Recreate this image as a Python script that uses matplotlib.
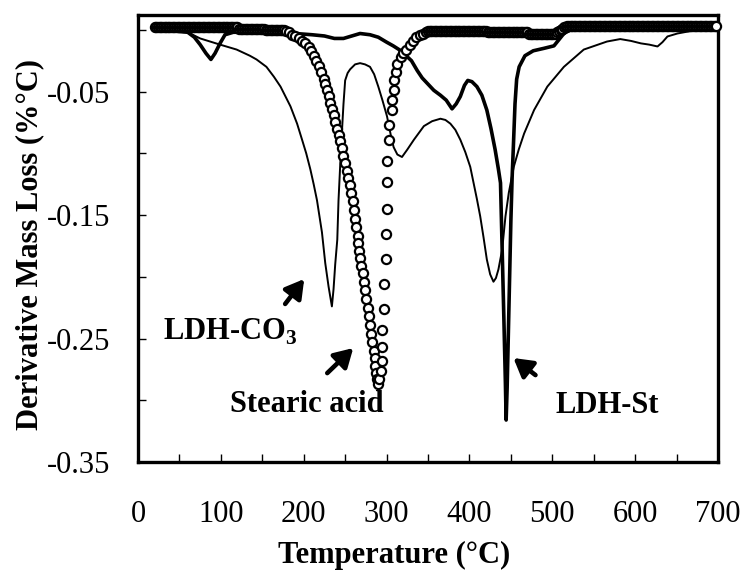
import matplotlib
matplotlib.use('Agg')
import matplotlib.pyplot as plt
from matplotlib.ticker import FixedLocator, FormatStrFormatter

# LDH-St (thick solid line)
st_T = [22, 45, 60, 68, 75, 82, 88, 93, 99, 105,
        115, 130, 150, 170, 190, 210, 225, 237, 248, 258,
        268, 280, 290, 300, 308, 315, 322, 330, 337, 343,
        350, 357, 365, 372, 379, 384, 389, 394, 398, 403,
        409, 415, 421, 426, 431, 435, 437.5, 439.5, 441.5, 443.4,
        444.3, 445.5, 447, 448.5, 450, 451.5, 453, 455, 457, 460,
        467, 477, 490, 502, 508, 514, 522, 560, 620, 700]
st_v = [0.0, -0.001, -0.002, -0.006, -0.012, -0.019, -0.024, -0.019, -0.011, -0.004,
        -0.002, -0.002, -0.002, -0.003, -0.003, -0.004, -0.005, -0.007, -0.007, -0.005,
        -0.003, -0.004, -0.006, -0.010, -0.013, -0.016, -0.020, -0.025, -0.033, -0.039,
        -0.044, -0.049, -0.053, -0.057, -0.064, -0.060, -0.054, -0.045, -0.041, -0.042,
        -0.046, -0.053, -0.065, -0.080, -0.097, -0.113, -0.124, -0.178, -0.232, -0.286,
        -0.316, -0.290, -0.245, -0.200, -0.155, -0.120, -0.095, -0.060, -0.040, -0.030,
        -0.021, -0.017, -0.015, -0.013, -0.008, -0.003, 0.000, 0.001, 0.001, 0.001]

# LDH-CO3 (thin line)
co3_T = [25, 45, 60, 75, 99, 119, 135, 143, 155, 164,
         172, 178, 184, 192, 198, 203, 208, 212, 216, 219,
         222, 226, 230, 234, 236, 238, 240.5, 242, 244, 246,
         248, 250, 253, 256, 262, 268, 274, 280, 285, 290,
         295, 300.5, 305, 308.5, 313, 318.6, 325, 333, 345, 355,
         365, 371, 377, 383, 389, 395, 401, 405, 409, 413,
         417, 421, 425, 429, 432, 435, 439.5, 443.5, 447.5, 453.5,
         459.5, 466, 478, 494, 514, 538, 566, 582, 595, 607,
         617, 627, 633, 639, 651, 667, 690]
co3_v = [0.0, -0.001, -0.002, -0.007, -0.012, -0.016, -0.021, -0.024, -0.030, -0.038,
         -0.046, -0.054, -0.062, -0.076, -0.089, -0.100, -0.113, -0.125, -0.138, -0.151,
         -0.164, -0.189, -0.208, -0.224, -0.210, -0.190, -0.170, -0.138, -0.110, -0.084,
         -0.060, -0.041, -0.035, -0.032, -0.028, -0.027, -0.028, -0.030, -0.036, -0.046,
         -0.057, -0.070, -0.085, -0.095, -0.101, -0.103, -0.097, -0.089, -0.078, -0.074,
         -0.072, -0.073, -0.076, -0.081, -0.089, -0.099, -0.111, -0.124, -0.137, -0.151,
         -0.168, -0.186, -0.198, -0.204, -0.201, -0.194, -0.178, -0.151, -0.132, -0.111,
         -0.097, -0.084, -0.065, -0.046, -0.030, -0.016, -0.0095, -0.0075, -0.009, -0.011,
         -0.012, -0.0135, -0.010, -0.0054, -0.003, -0.001, 0.000]

# Stearic acid (open circles), in four pieces: start, drop, recovery, end
acid_start_T = [20, 22, 24, 26, 28, 30, 32, 34, 36, 38, 40, 42, 44, 46, 48, 50, 52,
                54, 56, 58, 60, 62, 64, 66, 68, 70, 72, 74, 76, 78, 80, 82, 84, 86,
                88, 90, 92, 94, 96, 98, 100, 102, 104, 106, 108, 110, 112, 114, 116, 118, 120,
                122, 124, 126, 128, 130, 132, 134, 136, 138, 140, 142, 144, 146, 148, 150, 152,
                154, 156, 158, 160, 162, 164, 166, 168, 170, 172, 174, 176]
acid_start_v = [0.002, 0.002, 0.002, 0.002, 0.002, 0.002, 0.002, 0.002, 0.002, 0.002, 0.002, 0.002, 0.002, 0.002, 0.002, 0.002, 0.002,
                0.002, 0.002, 0.002, 0.002, 0.002, 0.002, 0.002, 0.002, 0.002, 0.002, 0.002, 0.002, 0.002, 0.002, 0.002, 0.002, 0.002,
                0.002, 0.002, 0.002, 0.002, 0.002, 0.002, 0.002, 0.002, 0.002, 0.002, 0.002, 0.002, 0.002, 0.002, 0.002, 0.002, 0.002,
                0.001, 0.001, 0.001, 0.001, 0.001, 0.001, 0.001, 0.001, 0.001, 0.001, 0.001, 0.001, 0.001, 0.001, 0.001, 0.001,
                0.0, 0.0, 0.0, 0.0, 0.0, 0.0, 0.0, 0.0, 0.0, 0.0, 0.0, 0.0]

acid_drop_T = [179, 182, 186, 190, 194, 198, 202, 206, 209, 212,
               215, 218, 221, 224, 226, 228, 230, 232, 234, 236,
               238, 240, 242, 244, 246, 248, 250, 252, 254, 256,
               257.5, 259, 260.5, 262, 263.5, 265, 266, 267, 268, 269.5,
               271, 272.5, 274, 275.5, 277, 278.5, 280, 281.5, 283, 284.5,
               285.5, 286.5, 287.5, 288.5, 289.5]
acid_drop_v = [-0.001, -0.002, -0.004, -0.005, -0.007, -0.009, -0.011, -0.014, -0.017, -0.021,
               -0.025, -0.029, -0.034, -0.040, -0.044, -0.049, -0.054, -0.059, -0.064, -0.069,
               -0.075, -0.080, -0.085, -0.090, -0.096, -0.102, -0.108, -0.114, -0.120, -0.126,
               -0.132, -0.139, -0.146, -0.153, -0.160, -0.167, -0.173, -0.179, -0.185, -0.191,
               -0.197, -0.204, -0.211, -0.218, -0.225, -0.232, -0.239, -0.246, -0.253, -0.260,
               -0.266, -0.272, -0.278, -0.283, -0.287]

acid_rise_T = [290.7, 292.8, 294.8, 294.8, 294.8, 296.8, 296.8, 298.8, 298.8, 300.8,
               300.8, 300.8, 302.8, 302.8, 306.9, 306.9, 308.8, 308.8, 310.8, 312.9,
               316.9, 320, 324, 328, 332, 336, 340, 344, 348]
acid_rise_v = [-0.283, -0.276, -0.268, -0.257, -0.243, -0.226, -0.206, -0.186, -0.165, -0.145,
               -0.123, -0.106, -0.089, -0.077, -0.065, -0.057, -0.049, -0.041, -0.034, -0.028,
               -0.022, -0.019, -0.016, -0.012, -0.009, -0.006, -0.004, -0.003, -0.002]

acid_end_T = [350, 352, 354, 356, 358, 360, 362, 364, 366, 368, 370, 372, 374, 376, 378, 380, 382, 384,
              386, 388, 390, 392, 394, 396, 398, 400, 402, 404, 406, 408, 410, 412, 414, 416, 418, 420,
              422, 424, 426, 428, 430, 432, 434, 436, 438, 440, 442, 444, 446,
              448, 450, 452, 454, 456, 458, 460, 462, 464, 466, 468, 470,
              472, 474, 476, 478, 480, 482, 484, 486, 488, 490, 492, 494, 496, 498, 500, 502, 504,
              506, 508, 510, 512, 514, 516,
              518, 520, 522, 524, 526, 528, 530, 532, 534, 536, 538, 540, 542,
              544, 546, 548, 550, 552, 554, 556, 558, 560, 562, 564, 566, 568,
              570, 572, 574, 576, 578, 580, 582, 584, 586, 588, 590, 592, 594,
              596, 598, 600, 602, 604, 606, 608, 610, 612, 614, 616, 618, 620,
              622, 624, 626, 628, 630, 632, 634, 636, 638, 640, 642, 644, 646,
              648, 650, 652, 654, 656, 658, 660, 662, 664, 666, 668, 670, 672,
              674, 676, 678, 680, 682, 684, 686, 688, 690, 692, 694, 696, 698]
acid_end_v = [-0.001, -0.001, -0.001, -0.001, -0.001, -0.001, -0.001, -0.001, -0.001, -0.001, -0.001, -0.001, -0.001, -0.001, -0.001, -0.001, -0.001, -0.001,
              -0.001, -0.001, -0.001, -0.001, -0.001, -0.001, -0.001, -0.001, -0.001, -0.001, -0.001, -0.001, -0.001, -0.001, -0.001, -0.001, -0.001, -0.001,
              -0.002, -0.002, -0.002, -0.002, -0.002, -0.002, -0.002, -0.002, -0.002, -0.002, -0.002, -0.002, -0.002,
              -0.002, -0.002, -0.002, -0.002, -0.002, -0.002, -0.002, -0.002, -0.002, -0.002, -0.002, -0.002,
              -0.003, -0.003, -0.003, -0.003, -0.003, -0.003, -0.003, -0.003, -0.003, -0.003, -0.003, -0.003, -0.003, -0.003, -0.003, -0.003, -0.003,
              -0.002, -0.001, 0.0, 0.001, 0.002, 0.002,
              0.003, 0.003, 0.003, 0.003, 0.003, 0.003, 0.003, 0.003, 0.003, 0.003, 0.003, 0.003, 0.003,
              0.003, 0.003, 0.003, 0.003, 0.003, 0.003, 0.003, 0.003, 0.003, 0.003, 0.003, 0.003, 0.003,
              0.003, 0.003, 0.003, 0.003, 0.003, 0.003, 0.003, 0.003, 0.003, 0.003, 0.003, 0.003, 0.003,
              0.003, 0.003, 0.003, 0.003, 0.003, 0.003, 0.003, 0.003, 0.003, 0.003, 0.003, 0.003, 0.003,
              0.003, 0.003, 0.003, 0.003, 0.003, 0.003, 0.003, 0.003, 0.003, 0.003, 0.003, 0.003, 0.003,
              0.003, 0.003, 0.003, 0.003, 0.003, 0.003, 0.003, 0.003, 0.003, 0.003, 0.003, 0.003, 0.003,
              0.003, 0.003, 0.003, 0.003, 0.003, 0.003, 0.003, 0.003, 0.003, 0.003, 0.003, 0.003, 0.003]

x_major = [0, 100, 200, 300, 400, 500, 600, 700]
x_minor = [50, 150, 250, 350, 450, 550, 650]
y_major = [-0.35, -0.25, -0.15, -0.05]
y_minor = [-0.30, -0.20, -0.10, 0.0]

acid_T = acid_start_T + acid_drop_T + acid_rise_T + acid_end_T
acid_v = acid_start_v + acid_drop_v + acid_rise_v + acid_end_v

plt.rcParams['font.family'] = 'Liberation Serif'
plt.rcParams['axes.unicode_minus'] = False
plt.rcParams['mathtext.fontset'] = 'custom'
plt.rcParams['mathtext.rm'] = 'Liberation Serif'
plt.rcParams['mathtext.bf'] = 'Liberation Serif:bold'

fig = plt.figure(figsize=(7.48, 5.74), dpi=100)
ax = fig.add_axes([0.1845, 0.1951, 0.7754, 0.7788])

ax.plot(co3_T, co3_v, color='black', lw=1.4, zorder=2)
ax.plot(st_T, st_v, color='black', lw=2.6, solid_joinstyle='round', zorder=2)
ax.plot(acid_T, acid_v, 'o', ms=6.6, mfc='white', mec='black', mew=1.6,
        clip_on=False, zorder=3)

ax.set_xlim(0, 700)
ax.set_ylim(-0.35, 0.012)
ax.xaxis.set_major_locator(FixedLocator(x_major))
ax.xaxis.set_minor_locator(FixedLocator(x_minor))
ax.yaxis.set_major_locator(FixedLocator(y_major))
ax.yaxis.set_minor_locator(FixedLocator(y_minor))
ax.xaxis.set_major_formatter(FormatStrFormatter('%d'))
ax.yaxis.set_major_formatter(FormatStrFormatter('%.2f'))

ax.tick_params(which='both', direction='in', length=6, width=1.0,
               labelsize=22, top=False, right=False)
ax.tick_params(axis='x', pad=27)
ax.tick_params(axis='y', pad=20)
for s in ax.spines.values():
    s.set_linewidth(2.4)

ax.set_xlabel('Temperature (°C)', fontsize=22, fontweight='bold')
ax.xaxis.set_label_coords(0.442, -0.177)
ax.set_ylabel('Derivative Mass Loss (%°C)', fontsize=22, fontweight='bold', va='center')
ax.yaxis.set_label_coords(-0.186, 0.4866)

arrow = dict(arrowstyle='-|>,head_length=0.55,head_width=0.32', lw=3.3,
             color='black', shrinkA=0, shrinkB=0, mutation_scale=20)
ax.text(30.2, -0.2512, r'LDH-CO$_\mathbf{3}$', fontsize=22, fontweight='bold', va='baseline')
ax.annotate('', xy=(200.6, -0.2018), xytext=(177.6, -0.222), arrowprops=arrow)
ax.text(111.2, -0.3096, 'Stearic acid', fontsize=22, fontweight='bold', va='baseline')
ax.annotate('', xy=(259.8, -0.2577), xytext=(228.4, -0.278), arrowprops=arrow)
ax.text(503.9, -0.3104, 'LDH-St', fontsize=22, fontweight='bold', va='baseline')
ax.annotate('', xy=(453.1, -0.2658), xytext=(479.7, -0.2796), arrowprops=arrow)

fig.savefig('out.png', dpi=100)
